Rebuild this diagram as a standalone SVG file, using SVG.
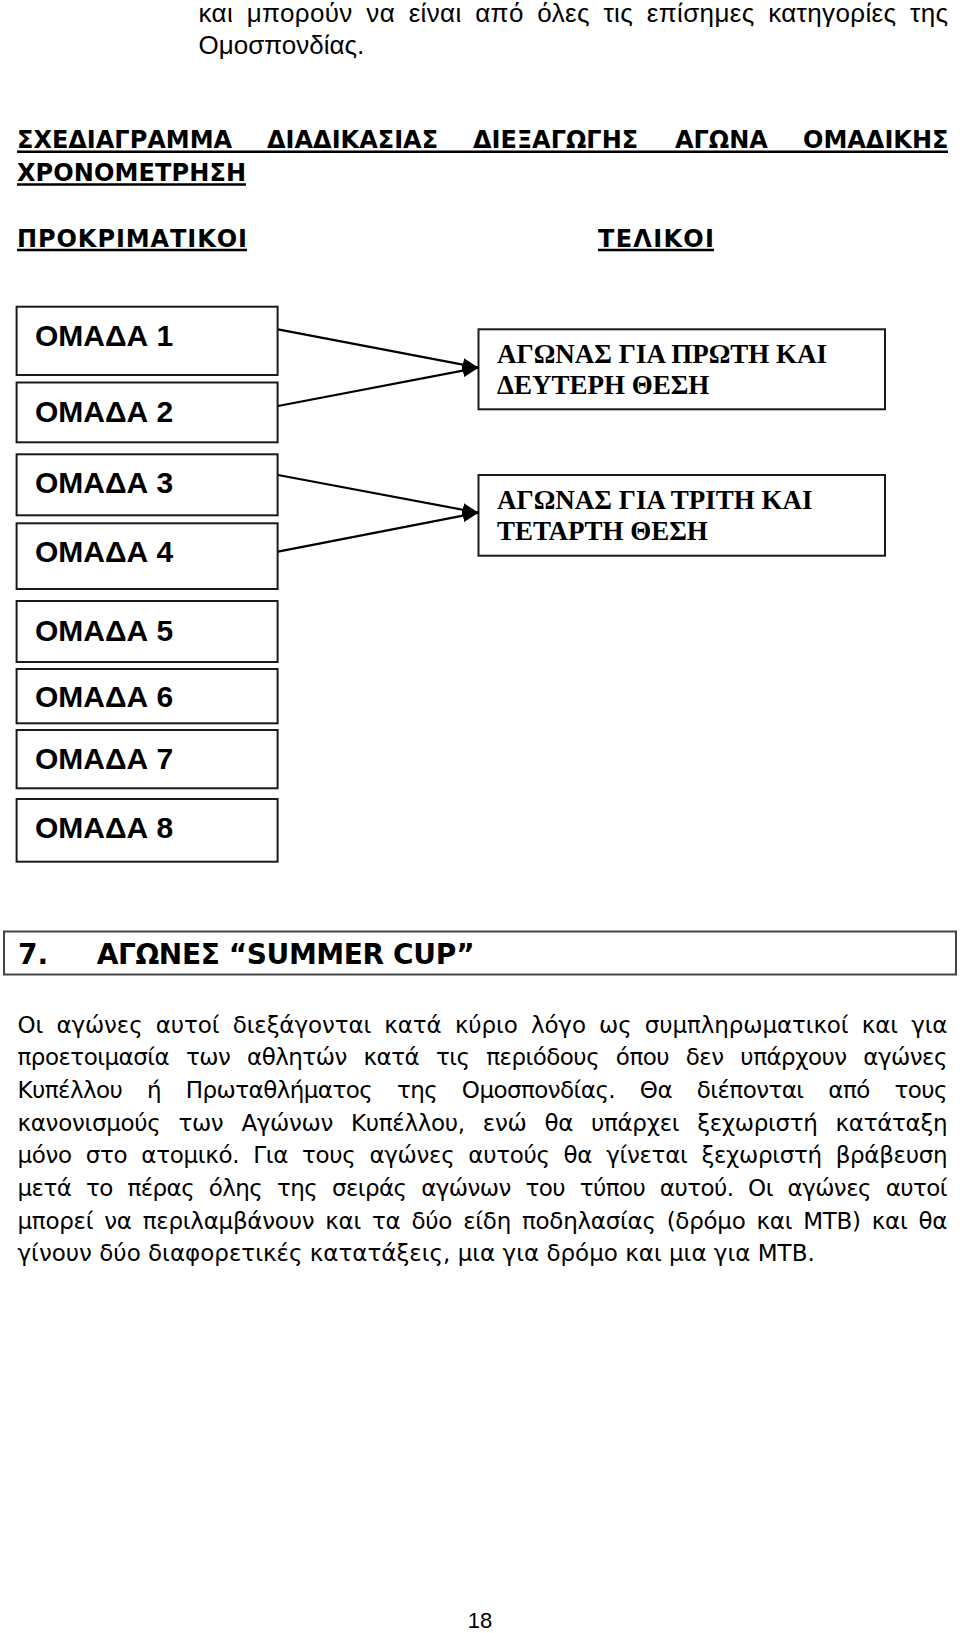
<svg xmlns="http://www.w3.org/2000/svg" width="960" height="1633" viewBox="0 0 960 1633">
<style>
.bg{fill:#fff}
.arial{font-family:"Liberation Sans",Arial,sans-serif;font-size:26px;fill:#000}
.body{font-family:"DejaVu Sans",Verdana,sans-serif;font-size:23px;fill:#000}
.hd{font-family:"DejaVu Sans",Verdana,sans-serif;font-weight:bold;font-size:24px;fill:#000}
.h7{font-family:"DejaVu Sans",Verdana,sans-serif;font-weight:bold;font-size:28px;fill:#000}
.team{font-family:"Liberation Sans",Arial,sans-serif;font-weight:bold;font-size:30px;fill:#000}
.final{font-family:"Liberation Serif","Times New Roman",serif;font-weight:bold;font-size:27px;fill:#000}
.box{fill:#fff;stroke:#1a1a1a;stroke-width:2}
.hbox{fill:#fff;stroke:#444;stroke-width:2}
.conn{stroke:#000;stroke-width:2.2;fill:none;marker-end:url(#arrow)}
.ul{stroke:#000;stroke-width:2.5}
.pg{font-family:"Liberation Sans",Arial,sans-serif;font-size:22px;fill:#000}
</style>
<defs>
<marker id="arrow" markerUnits="userSpaceOnUse" markerWidth="16" markerHeight="13" refX="16" refY="6.5" orient="auto">
<path d="M0,0 L16,6.5 L0,13 z" fill="#000"/>
</marker>
</defs>
<rect class="bg" x="0" y="0" width="960" height="1633"/>

<g id="intro">
<text class="arial" x="198.5" y="21.5" word-spacing="6" textLength="749.5" lengthAdjust="spacing">και μπορούν να είναι από όλες τις επίσημες κατηγορίες της</text>
<text class="arial" x="198.5" y="54">Ομοσπονδίας.</text>
</g>

<g id="title">
<text class="hd" y="148.3"><tspan x="17">ΣΧΕΔΙΑΓΡΑΜΜΑ</tspan><tspan x="267">ΔΙΑΔΙΚΑΣΙΑΣ</tspan><tspan x="473">ΔΙΕΞΑΓΩΓΗΣ</tspan><tspan x="675">ΑΓΩΝΑ</tspan><tspan x="803">ΟΜΑΔΙΚΗΣ</tspan></text>
<line class="ul" x1="17" y1="151.7" x2="948" y2="151.7"/>
<text class="hd" x="17" y="181" textLength="229" lengthAdjust="spacing">ΧΡΟΝΟΜΕΤΡΗΣΗ</text>
<line class="ul" x1="17" y1="184.5" x2="246" y2="184.5"/>
</g>

<g id="col-heading-prelim">
<text class="hd" x="17" y="246.7" textLength="230" lengthAdjust="spacing">ΠΡΟΚΡΙΜΑΤΙΚΟΙ</text>
<line class="ul" x1="17" y1="250" x2="247" y2="250"/>
</g>
<g id="col-heading-final">
<text class="hd" x="598" y="246.7" textLength="116" lengthAdjust="spacing">ΤΕΛΙΚΟΙ</text>
<line class="ul" x1="598" y1="250" x2="714" y2="250"/>
</g>

<g id="team1"><rect class="box" x="16.6" y="306.7" width="261" height="68.3"/><text class="team" x="35" y="346">ΟΜΑΔΑ 1</text></g>
<g id="team2"><rect class="box" x="16.6" y="382.5" width="261" height="59.8"/><text class="team" x="35" y="421.7">ΟΜΑΔΑ 2</text></g>
<g id="team3"><rect class="box" x="16.6" y="454.3" width="261" height="61"/><text class="team" x="35" y="493.3">ΟΜΑΔΑ 3</text></g>
<g id="team4"><rect class="box" x="16.6" y="523.3" width="261" height="65.7"/><text class="team" x="35" y="561.7">ΟΜΑΔΑ 4</text></g>
<g id="team5"><rect class="box" x="16.6" y="601" width="261" height="61"/><text class="team" x="35" y="640.7">ΟΜΑΔΑ 5</text></g>
<g id="team6"><rect class="box" x="16.6" y="669" width="261" height="54.3"/><text class="team" x="35" y="706.7">ΟΜΑΔΑ 6</text></g>
<g id="team7"><rect class="box" x="16.6" y="730" width="261" height="58.3"/><text class="team" x="35" y="769">ΟΜΑΔΑ 7</text></g>
<g id="team8"><rect class="box" x="16.6" y="799" width="261" height="62.7"/><text class="team" x="35" y="837.7">ΟΜΑΔΑ 8</text></g>

<g id="final12">
<rect class="box" x="478.5" y="329.3" width="406.5" height="80"/>
<text class="final" x="497" y="363.3">ΑΓΩΝΑΣ ΓΙΑ ΠΡΩΤΗ ΚΑΙ</text>
<text class="final" x="497" y="394">ΔΕΥΤΕΡΗ ΘΕΣΗ</text>
</g>
<g id="final34">
<rect class="box" x="478.5" y="475" width="406.5" height="80.7"/>
<text class="final" x="497" y="509">ΑΓΩΝΑΣ ΓΙΑ ΤΡΙΤΗ ΚΑΙ</text>
<text class="final" x="497" y="540">ΤΕΤΑΡΤΗ ΘΕΣΗ</text>
</g>

<g id="connectors">
<line class="conn" x1="278" y1="329.3" x2="478.5" y2="367.7"/>
<line class="conn" x1="278" y1="406" x2="478.5" y2="367.7"/>
<line class="conn" x1="278" y1="475" x2="478.5" y2="512.7"/>
<line class="conn" x1="278" y1="551.7" x2="478.5" y2="512.7"/>
</g>

<g id="section7">
<rect class="hbox" x="4" y="931.5" width="952" height="43"/>
<text class="h7" x="18" y="964">7.</text>
<text class="h7" x="96.7" y="964" textLength="378" lengthAdjust="spacing">ΑΓΩΝΕΣ “SUMMER CUP”</text>
</g>

<g id="paragraph">
<text class="body" x="17.5" y="1032.7" word-spacing="6" textLength="930" lengthAdjust="spacing">Οι αγώνες αυτοί διεξάγονται κατά κύριο λόγο ως συμπληρωματικοί  και για</text>
<text class="body" x="17.5" y="1065.3" word-spacing="10" textLength="930" lengthAdjust="spacing">προετοιμασία των αθλητών κατά τις περιόδους όπου δεν υπάρχουν αγώνες</text>
<text class="body" x="17.5" y="1098" word-spacing="18" textLength="930" lengthAdjust="spacing">Κυπέλλου ή Πρωταθλήματος της Ομοσπονδίας. Θα διέπονται από τους</text>
<text class="body" x="17.5" y="1130.6" word-spacing="11" textLength="930" lengthAdjust="spacing">κανονισμούς των Αγώνων Κυπέλλου,  ενώ θα υπάρχει ξεχωριστή κατάταξη</text>
<text class="body" x="17.5" y="1163.3" word-spacing="7" textLength="930" lengthAdjust="spacing">μόνο στο ατομικό. Για τους αγώνες αυτούς θα γίνεται ξεχωριστή βράβευση</text>
<text class="body" x="17.5" y="1195.9" word-spacing="8" textLength="930" lengthAdjust="spacing">μετά το πέρας όλης της σειράς αγώνων του τύπου αυτού. Οι αγώνες αυτοί</text>
<text class="body" x="17.5" y="1228.5" word-spacing="4" textLength="930" lengthAdjust="spacing">μπορεί να περιλαμβάνουν και τα δύο είδη ποδηλασίας (δρόμο και MTB) και θα</text>
<text class="body" x="17.5" y="1261.2">γίνουν δύο διαφορετικές κατατάξεις, μια για δρόμο και μια για MTB.</text>
</g>

<g id="page-number">
<text class="pg" x="480" y="1628" text-anchor="middle">18</text>
</g>
</svg>
